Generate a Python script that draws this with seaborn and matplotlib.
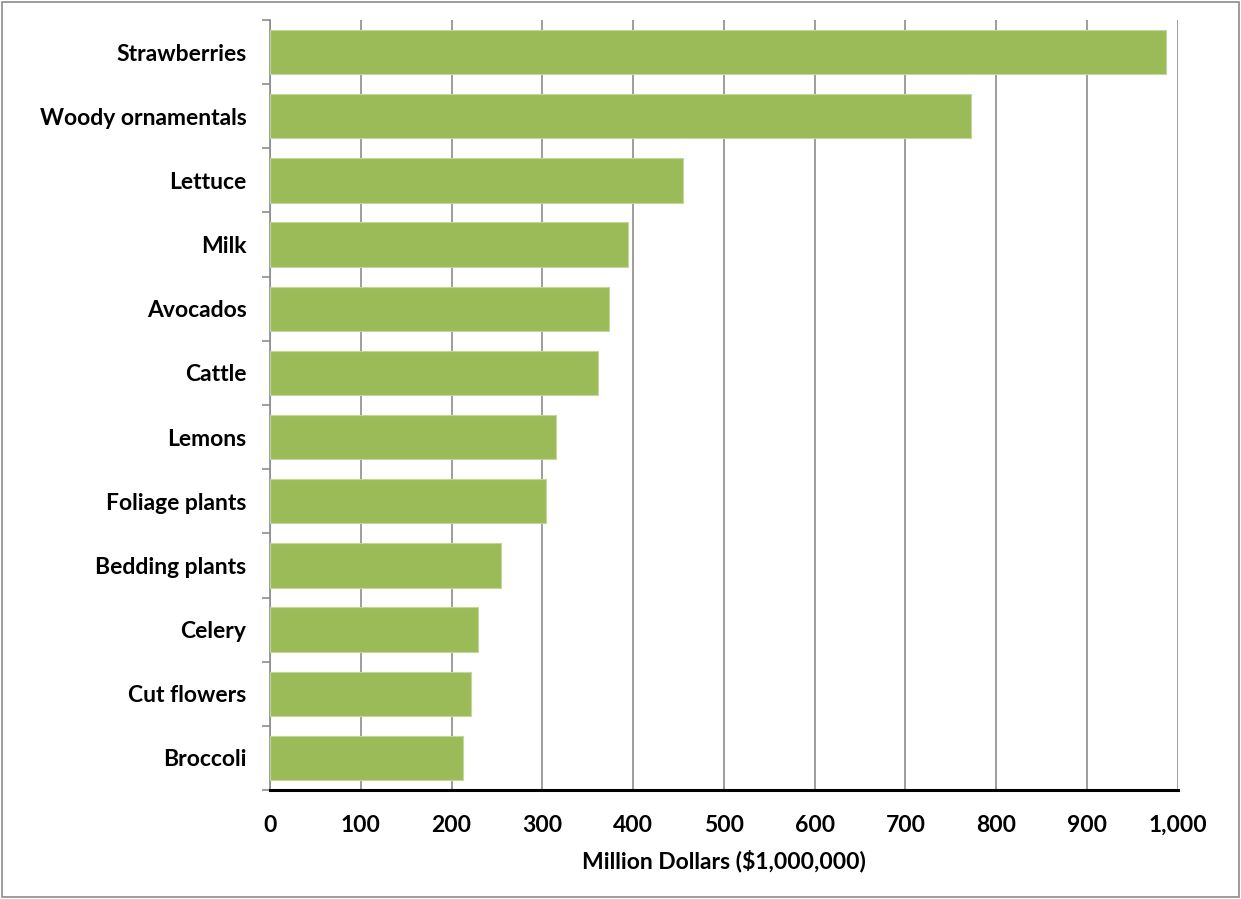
import matplotlib
matplotlib.use("Agg")
import matplotlib.pyplot as plt
import seaborn as sns
import pandas as pd
import numpy as np
from matplotlib.ticker import FuncFormatter, FixedLocator
from matplotlib.patches import Rectangle

categories = ["Strawberries", "Woody ornamentals", "Lettuce", "Milk", "Avocados",
              "Cattle", "Lemons", "Foliage plants", "Bedding plants", "Celery",
              "Cut flowers", "Broccoli"]
values = [987, 772, 455, 394, 373, 361, 315, 304, 255, 229, 221, 213]
x_ticks = [0, 100, 200, 300, 400, 500, 600, 700, 800, 900, 1000]
x_label = "Million Dollars ($1,000,000)"

df = pd.DataFrame({"category": categories, "value": values})

sns.set_theme(style="white")
plt.rcParams["font.family"] = ["Lato", "DejaVu Sans"]

fig = plt.figure(figsize=(12.41, 8.99), dpi=100)
ax = fig.add_axes([0.2176, 0.1212, 0.949 - 0.2176, 0.9778 - 0.1212])

sns.barplot(data=df, x="value", y="category", orient="h", color="#9BBB59",
            saturation=1, width=0.69, edgecolor="#C3D69B", linewidth=0.8,
            ax=ax, zorder=3)

ax.set_xlim(0, 1000)
ax.set_ylim(len(categories) - 0.5, -0.5)
ax.xaxis.set_major_locator(FixedLocator(x_ticks))
ax.xaxis.set_major_formatter(FuncFormatter(lambda v, p: f"{int(v):,}"))
ax.grid(axis="x", color="#8C8C8C", linewidth=1.2, zorder=0)
ax.grid(axis="y", visible=False)

for s in ["top", "right"]:
    ax.spines[s].set_visible(False)
ax.spines["left"].set_color("#8C8C8C")
ax.spines["left"].set_linewidth(1.2)
ax.spines["bottom"].set_color("black")
ax.spines["bottom"].set_linewidth(2.2)
ax.spines["bottom"].set_zorder(5)

fs = 16.5
ax.tick_params(axis="x", length=0, pad=18, labelsize=fs)
ax.tick_params(axis="y", which="major", length=0, pad=17, labelsize=fs)
ax.set_yticks(np.arange(-0.5, len(categories), 1), minor=True)
ax.tick_params(axis="y", which="minor", length=6, width=1.2, color="#8C8C8C", left=True)
for lab in ax.get_xticklabels() + ax.get_yticklabels():
    lab.set_fontweight("bold")
    lab.set_color("black")

ax.set_xlabel(x_label, fontsize=fs, fontweight="bold", labelpad=10, color="black")
ax.set_ylabel("")

fig.patches.append(Rectangle((0.0015, 0.002), 0.997, 0.996, transform=fig.transFigure,
                             fill=False, edgecolor="#8C8C8C", linewidth=1.2))

fig.savefig("out.png", dpi=100, facecolor="white")
